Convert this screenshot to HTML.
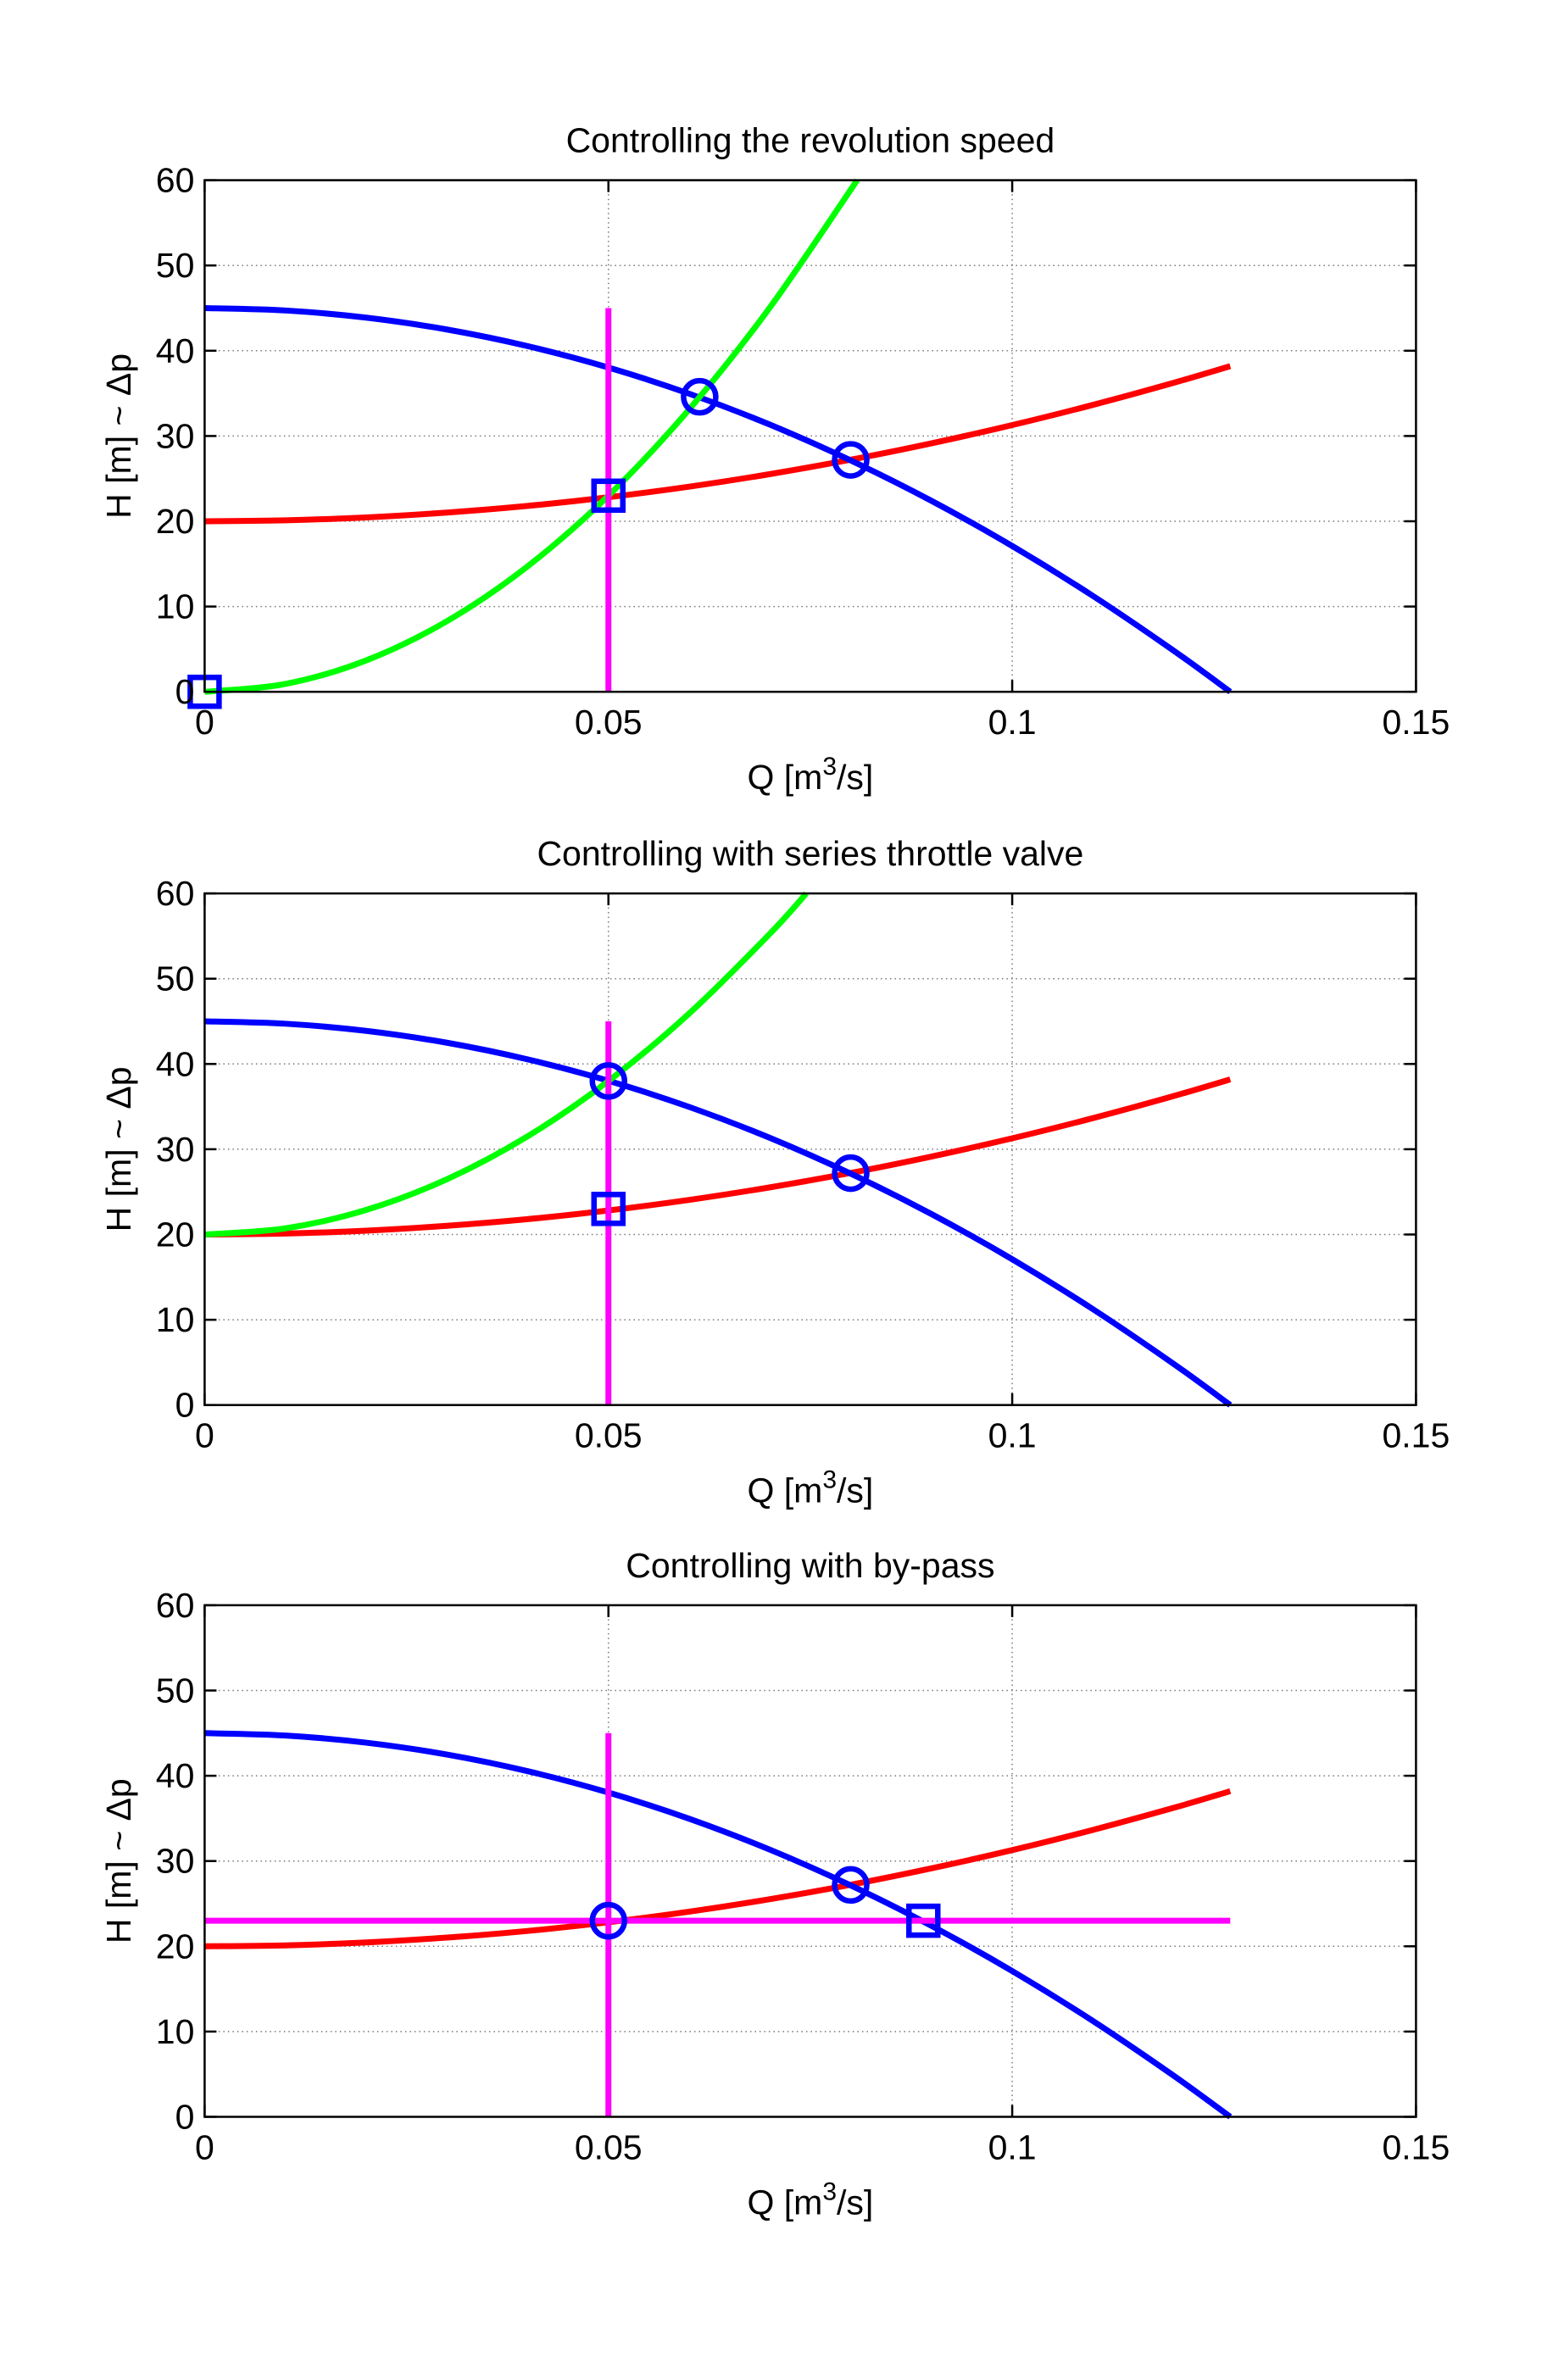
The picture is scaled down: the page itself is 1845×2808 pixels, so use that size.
<!DOCTYPE html>
<html><head><meta charset="utf-8"><style>
html,body{margin:0;padding:0;background:#fff;}
svg{display:block;font-family:"Liberation Sans",Arial,sans-serif;}
</style></head><body>
<svg id="fig" width="1845" height="2808" viewBox="0 0 1845 2808" xmlns="http://www.w3.org/2000/svg"></svg>
<script>
// ---- data ----
const xTicks = [0, 0.05, 0.1, 0.15];
const xTickLabels = ["0", "0.05", "0.1", "0.15"];
const yTicks = [0, 10, 20, 30, 40, 50, 60];
const yTickLabels = ["0", "10", "20", "30", "40", "50", "60"];
const titles = ["Controlling the revolution speed", "Controlling with series throttle valve", "Controlling with by-pass"];
const curveQ = [0, 0.01, 0.02, 0.03, 0.04, 0.05, 0.06, 0.07, 0.08, 0.09, 0.10, 0.11, 0.12, 0.127];
const pumpH = [45, 44.72, 43.88, 42.49, 40.54, 38.03, 34.96, 31.33, 27.14, 22.40, 17.10, 11.24, 4.82, 0];
const systemH = [20, 20.11, 20.45, 21.02, 21.80, 22.82, 24.06, 25.53, 27.22, 29.14, 31.28, 33.65, 36.24, 38.19];
const green1Q = [0, 0.01, 0.02, 0.03, 0.04, 0.05, 0.06, 0.07, 0.0808];
const green1H = [0, 0.92, 3.68, 8.28, 14.72, 23, 33.12, 45.08, 60];
const green2Q = [0, 0.01, 0.02, 0.03, 0.04, 0.05, 0.06, 0.07, 0.0745];
const green2H = [20, 20.72, 22.88, 26.48, 31.52, 38, 45.92, 55.28, 60];
const vlineQ = [0.05, 0.05];
const vlineH = [0, 45];
const hlineQ = [0, 0.127];
const hlineH = [23, 23];
const markers1 = [["square",0,0],["square",0.05,23],["circle",0.0613,34.6],["circle",0.08,27.2]];
const markers2 = [["circle",0.05,38],["square",0.05,23],["circle",0.08,27.2]];
const markers3 = [["circle",0.05,23],["circle",0.08,27.2],["square",0.089,23]];

const NS = "http://www.w3.org/2000/svg";
const svg = document.getElementById("fig");
function mk(tag, attrs, parent){const e=document.createElementNS(NS,tag);for(const k in attrs)e.setAttribute(k,attrs[k]);(parent||svg).appendChild(e);return e;}

const L = 241.4, R = 1670.4, PH = 603.6;
const tops = [212.6, 1054.1, 1893.9];
const FS = 41;

function smoothPath(pts){
  let d = `M${pts[0][0]},${pts[0][1]}`;
  for(let i=0;i<pts.length-1;i++){
    const p0=pts[Math.max(i-1,0)],p1=pts[i],p2=pts[i+1],p3=pts[Math.min(i+2,pts.length-1)];
    const c1=[p1[0]+(p2[0]-p0[0])/6,p1[1]+(p2[1]-p0[1])/6];
    const c2=[p2[0]-(p3[0]-p1[0])/6,p2[1]-(p3[1]-p1[1])/6];
    d+=` C${c1[0]},${c1[1]} ${c2[0]},${c2[1]} ${p2[0]},${p2[1]}`;
  }
  return d;
}

function drawPlot(idx, series, markers){
  const T = tops[idx], B = T + PH;
  const xs = q => L + (q-0)/(0.15-0)*(R-L);
  const ys = h => B - (h-0)/(60-0)*PH;
  const g = mk("g",{});
  
  
  xTicks.forEach(t=>{
    if(t>0 && t<0.15){const gl=mk("line",{x1:xs(t),x2:xs(t),y1:T,y2:B,stroke:"#777","stroke-width":1.5,"stroke-dasharray":"1.5,4"},g);
      }
  });
  yTicks.forEach(t=>{
    if(t>0 && t<60){const gl=mk("line",{x1:L,x2:R,y1:ys(t),y2:ys(t),stroke:"#777","stroke-width":1.5,"stroke-dasharray":"1.5,4"},g);
      }
  });
  xTicks.forEach(t=>{mk("line",{x1:xs(t),x2:xs(t),y1:B,y2:B-14,stroke:"#000","stroke-width":2.5},g);mk("line",{x1:xs(t),x2:xs(t),y1:T,y2:T+14,stroke:"#000","stroke-width":2.5},g);});
  yTicks.forEach(t=>{mk("line",{x1:L,x2:L+14,y1:ys(t),y2:ys(t),stroke:"#000","stroke-width":2.5},g);mk("line",{x1:R,x2:R-14,y1:ys(t),y2:ys(t),stroke:"#000","stroke-width":2.5},g);});
  series.forEach(s=>{
    const pts = s.q.map((q,i)=>[xs(q),ys(s.h[i])]);
    const p = mk("path",{d: s.straight ? "M"+pts.map(p=>p.join(",")).join(" L") : smoothPath(pts), fill:"none", stroke:s.color, "stroke-width":7, "stroke-linejoin":"round"},g);
    
    
  });
  markers.forEach(m=>{
    let e;
    if(m[0]==="circle") e = mk("circle",{cx:xs(m[1]),cy:ys(m[2]),r:19,fill:"none",stroke:"#0000ff","stroke-width":6.5},g);
    else e = mk("rect",{x:xs(m[1])-17,y:ys(m[2])-17,width:34,height:34,fill:"none",stroke:"#0000ff","stroke-width":6.5},g);
    
    
  });
  const box = mk("rect",{x:L,y:T,width:R-L,height:PH,fill:"none",stroke:"#000","stroke-width":2.5},g);
  
  
  xTicks.forEach((t,i)=>{const tx=mk("text",{x:xs(t),y:B+50,"font-size":FS,"text-anchor":"middle"},g);tx.textContent=xTickLabels[i];
    });
  yTicks.forEach((t,i)=>{const tx=mk("text",{x:L-12,y:ys(t)+14,"font-size":FS,"text-anchor":"end"},g);tx.textContent=yTickLabels[i];
    });
  const ti = mk("text",{x:(L+R)/2,y:T-33,"font-size":FS,"text-anchor":"middle"},g);
  ti.textContent = titles[idx];
  
  
  const xl = mk("text",{x:(L+R)/2,y:B+115,"font-size":FS,"text-anchor":"middle"},g);
  xl.innerHTML = 'Q [m<tspan dy="-17" font-size="30">3</tspan><tspan dy="17">/s]</tspan>';
  
  
  const yc = T + PH/2;
  const yl = mk("text",{x:154,y:yc,"font-size":FS,"text-anchor":"middle",transform:`rotate(-90 154 ${yc})`},g);
  yl.textContent = "H [m] ~ \u0394p";
  
  
}

drawPlot(0,[
  {name:"system-curve",q:curveQ,h:systemH,color:"#ff0000"},
  {name:"pump-curve",q:curveQ,h:pumpH,color:"#0000ff"},
  {name:"reduced-speed-curve",q:green1Q,h:green1H,color:"#00ff00"},
  {name:"target-flow-line",q:vlineQ,h:vlineH,color:"#ff00ff",straight:true}
],markers1);
drawPlot(1,[
  {name:"system-curve",q:curveQ,h:systemH,color:"#ff0000"},
  {name:"pump-curve",q:curveQ,h:pumpH,color:"#0000ff"},
  {name:"throttled-system-curve",q:green2Q,h:green2H,color:"#00ff00"},
  {name:"target-flow-line",q:vlineQ,h:vlineH,color:"#ff00ff",straight:true}
],markers2);
drawPlot(2,[
  {name:"system-curve",q:curveQ,h:systemH,color:"#ff0000"},
  {name:"pump-curve",q:curveQ,h:pumpH,color:"#0000ff"},
  {name:"target-flow-line",q:vlineQ,h:vlineH,color:"#ff00ff",straight:true},
  {name:"bypass-head-line",q:hlineQ,h:hlineH,color:"#ff00ff",straight:true}
],markers3);
</script>
</body></html>
